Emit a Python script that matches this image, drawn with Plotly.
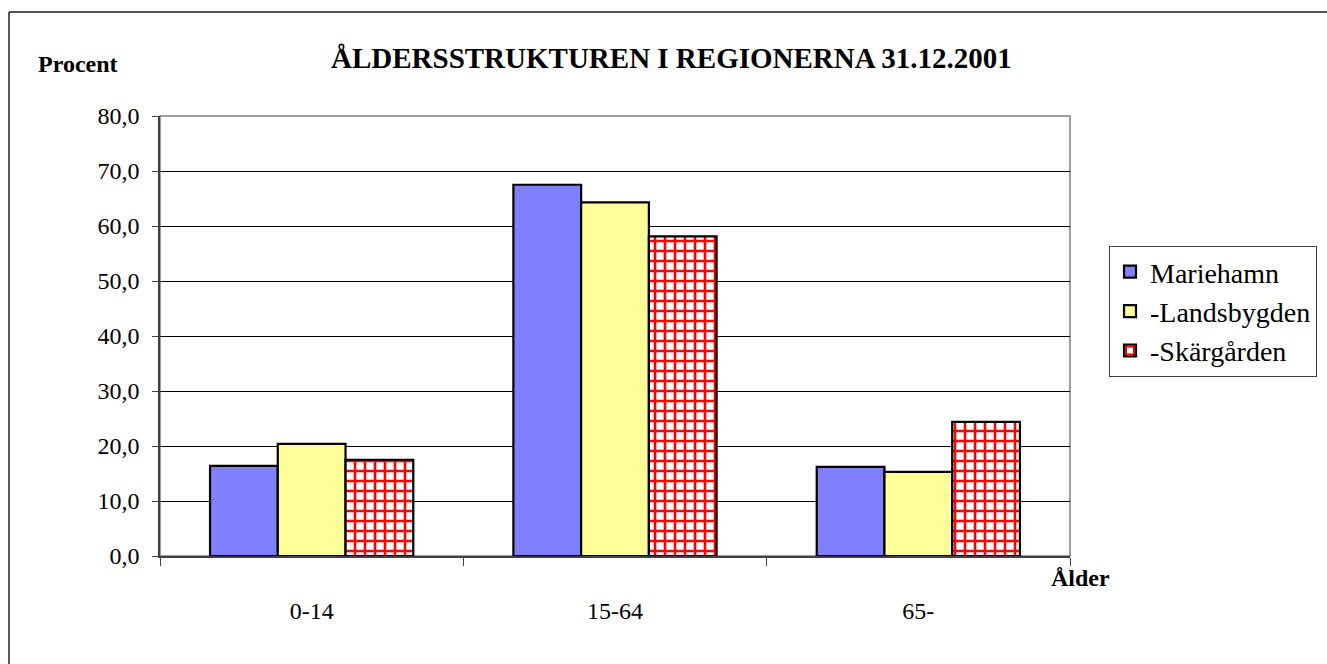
import plotly.graph_objects as go

categories = ["0-14", "15-64", "65-"]
series_names = ["Mariehamn", "-Landsbygden", "-Skärgården"]
mariehamn = [16.4, 67.5, 16.2]
landsbygden = [20.4, 64.3, 15.3]
skargarden = [17.5, 58.1, 24.4]
y_ticks = [0, 10, 20, 30, 40, 50, 60, 70, 80]
y_ticklabels = ["0,0", "10,0", "20,0", "30,0", "40,0", "50,0", "60,0", "70,0", "80,0"]

FONT = "Liberation Serif, Times New Roman, serif"
W, H = 1327, 664
L, R, T, B = 160, 257, 116, 108

fig = go.Figure()
fig.add_trace(go.Bar(x=categories, y=mariehamn, name=series_names[0],
                     marker=dict(color="#8080FF", line=dict(color="black", width=2.2))))
fig.add_trace(go.Bar(x=categories, y=landsbygden, name=series_names[1],
                     marker=dict(color="#FFFF99", line=dict(color="black", width=2.2))))
fig.add_trace(go.Bar(x=categories, y=skargarden, name=series_names[2],
                     marker=dict(color="white", line=dict(color="black", width=2.2),
                                 pattern=dict(shape="+", fgcolor="#FF0000", bgcolor="white",
                                              fgopacity=1, size=10, solidity=0.45,
                                              fillmode="replace"))))

pw = W - L - R
ph = H - T - B
def px2x(px):
    return (px - L) / pw
def py2y(py):
    return (H - B - py) / ph

fig.update_layout(
    width=W, height=H,
    margin=dict(l=L, r=R, t=T, b=B, autoexpand=False),
    paper_bgcolor="white", plot_bgcolor="white",
    font=dict(family=FONT, color="black", size=24),
    barmode="group", bargap=0.33, bargroupgap=0,
    showlegend=True,
    legend=dict(x=px2x(1109), y=py2y(246), xanchor="left", yanchor="top",
                bordercolor="#404040", borderwidth=1, bgcolor="white",
                font=dict(family=FONT, size=28, color="black"),
                itemwidth=30, tracegroupgap=4),
    xaxis=dict(type="category", showline=True, linecolor="#404040", linewidth=1.5,
               ticks="outside", ticklen=8, tickcolor="#404040", tickson="boundaries",
               ticklabelstandoff=32, tickfont=dict(family=FONT, size=24),
               showgrid=False, zeroline=False, fixedrange=True),
    yaxis=dict(range=[0, 80], tickvals=y_ticks, ticktext=y_ticklabels,
               showline=True, linecolor="#404040", linewidth=1.5,
               ticks="outside", ticklen=6, tickcolor="#404040",
               ticklabelstandoff=8, tickfont=dict(family=FONT, size=24),
               showgrid=True, gridcolor="black", gridwidth=1, zeroline=False,
               fixedrange=True),
    shapes=[
        dict(type="rect", xref="paper", yref="paper", x0=0, x1=1, y0=0, y1=1,
             line=dict(color="#808080", width=1.5), layer="below"),
        dict(type="line", xref="paper", yref="paper", x0=px2x(9), x1=px2x(9),
             y0=py2y(12), y1=py2y(700), line=dict(color="#202020", width=1.5)),
        dict(type="line", xref="paper", yref="paper", x0=px2x(9), x1=px2x(1340),
             y0=py2y(12), y1=py2y(12), line=dict(color="#202020", width=1.5)),
    ],
    annotations=[
        dict(text="<b>ÅLDERSSTRUKTUREN I REGIONERNA 31.12.2001</b>", xref="paper", yref="paper",
             x=px2x(671), y=py2y(58), xanchor="center", yanchor="middle", showarrow=False,
             font=dict(family=FONT, size=29, color="black")),
        dict(text="<b>Procent</b>", xref="paper", yref="paper",
             x=px2x(78), y=py2y(64), xanchor="center", yanchor="middle", showarrow=False,
             font=dict(family=FONT, size=24, color="black")),
        dict(text="<b>Ålder</b>", xref="paper", yref="paper",
             x=px2x(1080), y=py2y(578), xanchor="center", yanchor="middle", showarrow=False,
             font=dict(family=FONT, size=24, color="black")),
    ],
)

fig.write_html("out.html", config={"displayModeBar": False},
               post_script="document.body.style.margin='0px';document.body.style.padding='0px';")
